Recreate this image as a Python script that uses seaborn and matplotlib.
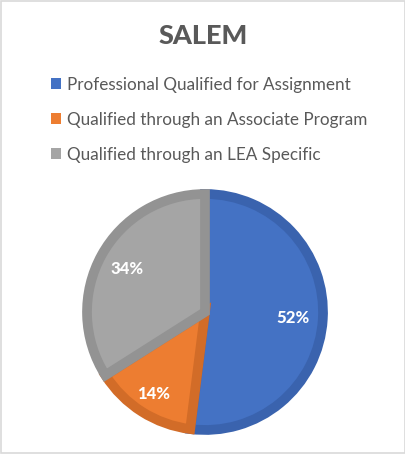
import matplotlib
matplotlib.use("Agg")
import numpy as np
import matplotlib.pyplot as plt
from matplotlib.patches import Patch, Rectangle
import seaborn as sns

categories = ["Professional Qualified for Assignment",
              "Qualified through an Associate Program",
              "Qualified through an LEA Specific"]
shares = [52, 14, 34]
fill_colors = ["#4472C4", "#ED7D31", "#A5A5A5"]
edge_colors = ["#3A63AE", "#D26C28", "#939393"]
label_radius = [0.75, 0.82, 0.75]

sns.set_theme(style="white")
plt.rcParams['font.family'] = ['Lato', 'DejaVu Sans']
text_color = "#595959"

fig = plt.figure(figsize=(4.06, 4.54), dpi=100)
ax = fig.add_axes([0.2143, 0.0529, 0.5813, 0.5198])

wedges, texts, autotexts = ax.pie(shares, colors=fill_colors, startangle=90,
                                  counterclock=False, autopct="%d%%",
                                  pctdistance=0.77,
                                  textprops=dict(color="white", fontsize=12,
                                                 fontweight="black"))
# darker border drawn only on the inside of each slice
for w, ec in zip(wedges, edge_colors):
    w.set_edgecolor(ec)
    w.set_linewidth(7)
    w.set_clip_path(w)

for w, t, r in zip(wedges, autotexts, label_radius):
    ang = np.deg2rad((w.theta1 + w.theta2) / 2)
    t.set_position((r * np.cos(ang), r * np.sin(ang)))

ax.set_xlim(-1, 1)
ax.set_ylim(-1, 1)
ax.set_aspect("equal")

fig.text(0.5, 0.921, "SALEM", ha="center", va="center", fontsize=19.5,
         fontweight="black", color=text_color)

handles = [Patch(facecolor=c, edgecolor="none") for c in fill_colors]
leg = fig.legend(handles, categories, loc="upper left",
                 bbox_to_anchor=(0.105, 0.85), frameon=False,
                 fontsize=12.3, handlelength=0.6, handleheight=0.6,
                 handletextpad=0.3, labelspacing=1.12, borderpad=0)
for t in leg.get_texts():
    t.set_color(text_color)

fig.patches.append(Rectangle((0.002, 0.002), 0.996, 0.996,
                             transform=fig.transFigure, fill=False,
                             edgecolor="#D9D9D9", linewidth=1.2))

fig.savefig("out.png", dpi=100)
